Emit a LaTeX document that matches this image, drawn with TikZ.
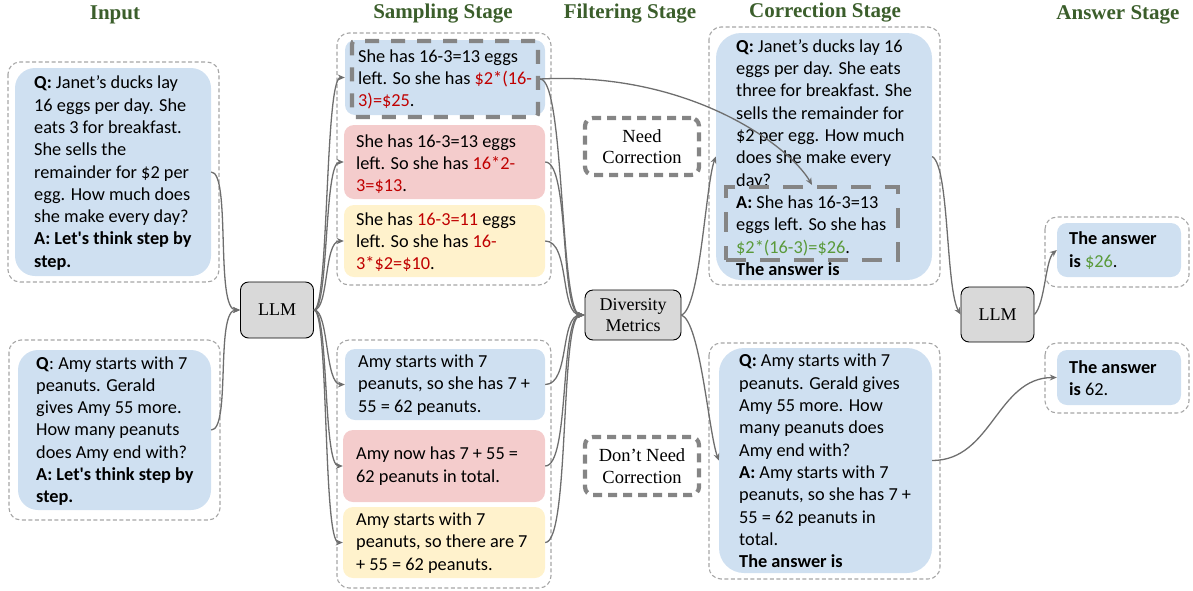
\documentclass[tikz,border=0pt]{standalone}
\usepackage{fontspec}
\newfontfamily\boxfont{Carlito}
\newfontfamily\serfont{Liberation Serif}
\usetikzlibrary{arrows.meta}
\definecolor{qblue}{HTML}{CFE0F1}
\definecolor{qred}{HTML}{F4CCCC}
\definecolor{qyel}{HTML}{FFF2CC}
\definecolor{hgreen}{HTML}{3B5E2B}
\definecolor{tred}{HTML}{C00000}
\definecolor{tgreen}{HTML}{5A9A3A}
\definecolor{lgray}{HTML}{A6A6A6}
\definecolor{dgray}{HTML}{858585}
\definecolor{agray}{HTML}{6E6E6E}
\definecolor{pgray}{HTML}{D9D9D9}
\newcommand\rd[1]{\textcolor{tred}{#1}}
\newcommand\gr[1]{\textcolor{tgreen}{#1}}
\tikzset{
  fbox/.style={draw=none, inner sep=0pt, rounded corners=#1},
  txt/.style={font=\boxfont\fontsize{18.3}{22.3}\selectfont, align=left, anchor=west, inner sep=0pt},
  outerbox/.style={draw=lgray, dash pattern=on 4pt off 2.5pt, line width=1.1pt, rounded corners=12pt},
  thickdash/.style={draw=dgray, line width=4.2pt, inner sep=0pt},
  fdash/.style={thickdash, dash pattern=on 9pt off 6pt, rounded corners=8pt},
  sdash/.style={thickdash, dash pattern=on 14pt off 12pt, rounded corners=3pt},
  cdash/.style={thickdash, dash pattern=on 20pt off 14pt},
  proc/.style={draw=black, fill=pgray, line width=0.9pt, rounded corners=8pt, font=\serfont\fontsize{18}{21}\selectfont, align=center, inner sep=0pt},
  flab/.style={font=\serfont\fontsize{18.5}{21.5}\selectfont, align=center, inner sep=0pt},
  conn/.style={draw=agray, line width=1.3pt, -{Stealth[length=7pt,width=6pt]}},
  head/.style={font=\serfont\bfseries\fontsize{21}{25}\selectfont, text=hgreen, inner sep=0pt},
}
\begin{document}
\begin{tikzpicture}[x=1pt,y=-1pt]
\useasboundingbox (0,0) rectangle (1193,590);
% headers
\node[head] (h1) at (115,15) {Input};
\node[head] (h2) at (443,14) {Sampling Stage};
\node[head] (h3) at (630,14) {Filtering Stage};
\node[head] (h4) at (825,13) {Correction Stage};
\node[head] (h5) at (1118,15) {Answer Stage};
% input
\draw[outerbox] (8,62) rectangle (219,282);
\node[fbox=20pt, fill=qblue, minimum width=196pt, minimum height=208pt] (in1) at (113,172) {};
\node[txt] (in1t) at (34,173) {\textbf{Q:} Janet’s ducks lay\\16 eggs per day. She\\eats 3 for breakfast.\\She sells the\\remainder for \$2 per\\egg. How much does\\she make every day?\\\textbf{A: Let's think step by}\\\textbf{step.}};
\draw[outerbox] (9,340) rectangle (220,520);
\node[fbox=20pt, fill=qblue, minimum width=193pt, minimum height=160pt] (in2) at (114.5,430) {};
\node[txt] (in2t) at (36,431) {\textbf{Q}: Amy starts with 7\\peanuts. Gerald\\gives Amy 55 more.\\How many peanuts\\does Amy end with?\\\textbf{A: Let's think step by}\\\textbf{step.}};
% LLM 1
\node[proc, minimum width=73pt, minimum height=56pt] (llm1) at (277,310) {LLM};
% sampling 1
\draw[outerbox] (337,33) rectangle (551,285);
\node[fbox=10pt, fill=qblue, minimum width=200pt, minimum height=75pt] (s1a) at (445,77.5) {};
\node[txt] (s1at) at (358,79.5) {She has 16-3=13 eggs\\left. So she has \rd{\$2*(16-}\\\rd{3)=\$25}.};
\node[sdash, minimum width=186pt, minimum height=76pt] (s1f) at (445,79) {};
\node[fbox=10pt, fill=qred, minimum width=201pt, minimum height=74pt] (s1b) at (444.5,162) {};
\node[txt] (s1bt) at (356,164) {She has 16-3=13 eggs\\left. So she has \rd{16*2-}\\\rd{3=\$13}.};
\node[fbox=10pt, fill=qyel, minimum width=201pt, minimum height=72pt] (s1c) at (444.5,241) {};
\node[txt] (s1ct) at (356,242) {She has \rd{16-3=11} eggs\\left. So she has \rd{16-}\\\rd{3*\$2=\$10}.};
% sampling 2
\draw[outerbox] (337,340) rectangle (551,588);
\node[fbox=10pt, fill=qblue, minimum width=200pt, minimum height=71pt] (s2a) at (445,384.5) {};
\node[txt] (s2at) at (358,385) {Amy starts with 7\\peanuts, so she has 7 +\\55 = 62 peanuts.};
\node[fbox=10pt, fill=qred, minimum width=202pt, minimum height=72pt] (s2b) at (444,466) {};
\node[txt] (s2bt) at (356,466) {Amy now has 7 + 55 =\\62 peanuts in total.};
\node[fbox=10pt, fill=qyel, minimum width=202pt, minimum height=71pt] (s2c) at (444,542.5) {};
\node[txt] (s2ct) at (356,543) {Amy starts with 7\\peanuts, so there are 7\\+ 55 = 62 peanuts.};
% filtering
\node[fdash, minimum width=114pt, minimum height=57pt] (need) at (642,146.5) {};
\node[flab] (needt) at (642,146.5) {Need\\Correction};
\node[fdash, minimum width=114pt, minimum height=58pt] (dont) at (642,466) {};
\node[flab] (dontt) at (642,466) {Don’t Need\\Correction};
\node[proc, minimum width=96pt, minimum height=50pt] (div) at (633,315) {Diversity\\Metrics};
% correction 1
\draw[outerbox] (709,27) rectangle (940,285);
\node[fbox=25pt, fill=qblue, minimum width=216pt, minimum height=247pt] (c1) at (824,156.5) {};
\node[txt] (c1t) at (736,157.5) {\textbf{Q:} Janet’s ducks lay 16\\eggs per day. She eats\\three for breakfast. She\\sells the remainder for\\\$2 per egg. How much\\does she make every\\day?\\\textbf{A:} She has 16-3=13\\eggs left. So she has\\\gr{\$2*(16-3)=\$26}.\\\textbf{The answer is}};
\node[cdash, minimum width=172pt, minimum height=73pt] (c1f) at (812,223.5) {};
% correction 2
\draw[outerbox] (709,343) rectangle (940,579);
\node[fbox=25pt, fill=qblue, minimum width=213pt, minimum height=225pt] (c2) at (825.5,460.5) {};
\node[txt] (c2t) at (739,461) {\textbf{Q:} Amy starts with 7\\peanuts. Gerald gives\\Amy 55 more. How\\many peanuts does\\Amy end with?\\\textbf{A:} Amy starts with 7\\peanuts, so she has 7 +\\55 = 62 peanuts in\\total.\\\textbf{The answer is}};
% LLM 2
\node[proc, minimum width=73pt, minimum height=55pt] (llm2) at (997.5,314.5) {LLM};
% answers
\draw[outerbox] (1045,217) rectangle (1189,287);
\node[fbox=10pt, fill=qblue, minimum width=124pt, minimum height=54pt] (a1) at (1119,250) {};
\node[txt] (a1t) at (1069,250.5) {\textbf{The answer}\\\textbf{is} \gr{\$26}.};
\draw[outerbox] (1045,343) rectangle (1189,413);
\node[fbox=10pt, fill=qblue, minimum width=124pt, minimum height=55pt] (a2) at (1119,377.5) {};
\node[txt] (a2t) at (1069,378) {\textbf{The answer}\\\textbf{is} 62.};
% connectors
\draw[conn] (in1.east) to[out=0,in=180,out distance=20pt,in distance=25pt] (llm1.west);
\draw[conn] (in2.east) to[out=0,in=180,out distance=20pt,in distance=25pt] (llm1.west);
\foreach \t in {s1a,s1b,s1c,s2a,s2b,s2c}
  \draw[conn] (llm1.east) to[out=0,in=180,out distance=15pt,in distance=20pt] (\t.west);
\foreach \s in {s1f,s1b,s1c,s2a,s2b,s2c}
  \draw[conn] (\s.east) to[out=0,in=180,out distance=25pt,in distance=25pt] (div.west);
\draw[conn] (s1f.east) to[out=3,in=120,out distance=150pt,in distance=45pt] (c1f.north);
\draw[conn] (div.east) to[out=20,in=250,out distance=20pt,in distance=30pt] (c1.west);
\draw[conn] (div.east) to[out=-20,in=110,out distance=20pt,in distance=30pt] (c2.west);
\draw[conn] (c1.east) to[out=-30,in=120,out distance=20pt,in distance=30pt] (llm2.west);
\draw[conn] (llm2.east) to[out=45,in=220,out distance=15pt,in distance=15pt] (a1.west);
\draw[conn] (c2.east) to[out=0,in=180,out distance=60pt,in distance=60pt] (a2.west);
\end{tikzpicture}
\end{document}
